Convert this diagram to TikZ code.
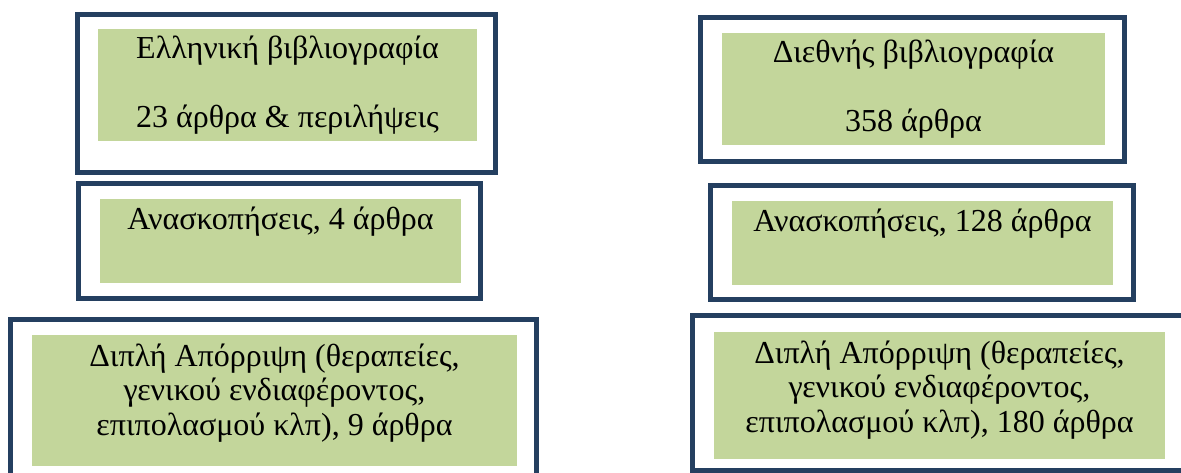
\documentclass[tikz,border=0pt]{standalone}
\usepackage{fontspec}
\setmainfont{Liberation Serif}
\definecolor{navy}{HTML}{243F60}
\definecolor{olive}{HTML}{C3D69B}
\tikzset{
  frame/.style={draw=navy, line width=5pt},
  greenbox/.style={fill=olive},
  label/.style={font=\fontsize{32}{34.5}\selectfont, align=center, anchor=base, inner sep=0pt, text=black},
}
\begin{document}
\begin{tikzpicture}[x=1pt,y=-1pt]
\useasboundingbox (0,0) rectangle (1181,473);
% frames
\draw[frame] (77.5,14.5) rectangle (495.5,172.5);
\draw[frame] (700.5,17.5) rectangle (1124.5,161.5);
\draw[frame] (78.5,183.5) rectangle (480.5,298.5);
\draw[frame] (710.5,185.5) rectangle (1133.5,299.5);
\draw[frame] (10.5,319.5) rectangle (536.5,495);
\draw[frame] (692.5,315.5) rectangle (1200,470.5);
% green boxes
\fill[greenbox] (98,29) rectangle (477,141);
\fill[greenbox] (722,33) rectangle (1105,145);
\fill[greenbox] (100,199) rectangle (461,283);
\fill[greenbox] (732,201) rectangle (1113,285);
\fill[greenbox] (32,335) rectangle (517,466);
\fill[greenbox] (714,332) rectangle (1165,459);
% texts (anchor base = baseline of the last line)
\node[label] (t1) at (287.5,128) {Ελληνική βιβλιογραφία\\[34.5pt]23 άρθρα \& περιλήψεις};
\node[label] (t2) at (913.5,132) {Διεθνής βιβλιογραφία\\[34.5pt]358 άρθρα};
\node[label] (t3) at (280.5,230) {Ανασκοπήσεις, 4 άρθρα};
\node[label] (t4) at (922.5,232) {Ανασκοπήσεις, 128 άρθρα};
\node[label] (t5) at (274.5,435) {Διπλή Απόρριψη (θεραπείες,\\γενικού ενδιαφέροντος,\\επιπολασμού κλπ), 9 άρθρα};
\node[label] (t6) at (939.5,432) {Διπλή Απόρριψη (θεραπείες,\\γενικού ενδιαφέροντος,\\επιπολασμού κλπ), 180 άρθρα};
\end{tikzpicture}
\end{document}
